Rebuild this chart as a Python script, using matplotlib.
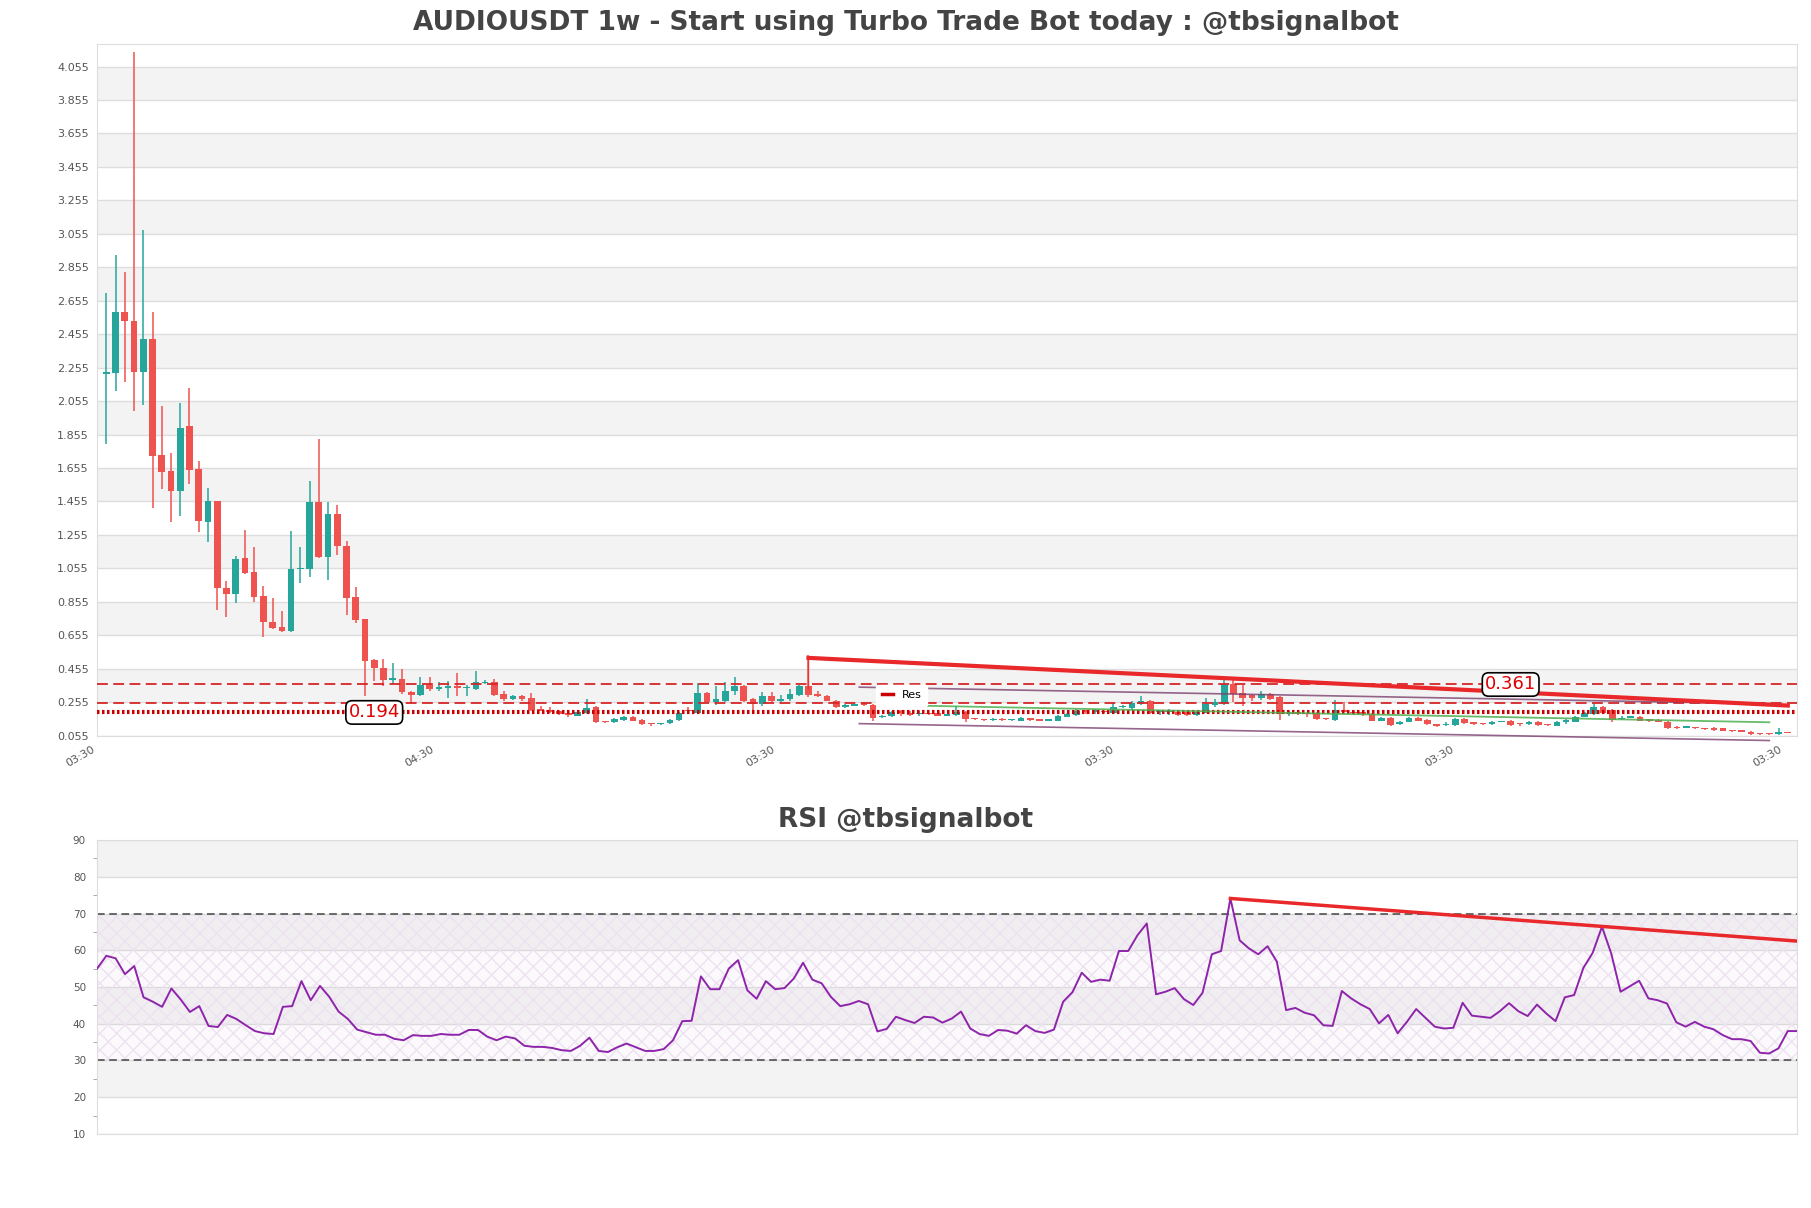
import matplotlib
matplotlib.use("Agg")
import matplotlib.pyplot as plt
from matplotlib.lines import Line2D
import numpy as np

# weekly candles
opens = [
    2.22, 2.225, 2.589, 2.536, 2.229, 2.424, 1.73, 1.636, 1.519, 1.905,
    1.648, 1.334, 1.455, 0.936, 0.9, 1.117, 1.031, 0.89, 0.735, 0.705,
    0.679, 1.051, 1.051, 1.451, 1.125, 1.379, 1.19, 0.884, 0.75, 0.506,
    0.462, 0.389, 0.393, 0.319, 0.297, 0.357, 0.333, 0.337, 0.349, 0.341,
    0.333, 0.371, 0.373, 0.307, 0.273, 0.293, 0.279, 0.214, 0.208, 0.2,
    0.19, 0.174, 0.19, 0.224, 0.14, 0.136, 0.15, 0.164, 0.15, 0.128,
    0.124, 0.128, 0.15, 0.205, 0.193, 0.309, 0.259, 0.265, 0.323, 0.353,
    0.273, 0.243, 0.295, 0.265, 0.273, 0.299, 0.349, 0.303, 0.295, 0.265,
    0.229, 0.235, 0.253, 0.239, 0.165, 0.173, 0.199, 0.193, 0.183, 0.187,
    0.193, 0.173, 0.179, 0.195, 0.157, 0.153, 0.149, 0.153, 0.15, 0.143,
    0.159, 0.147, 0.145, 0.145, 0.169, 0.179, 0.205, 0.199, 0.197, 0.193,
    0.225, 0.221, 0.243, 0.265, 0.195, 0.197, 0.195, 0.195, 0.179, 0.193,
    0.239, 0.243, 0.363, 0.309, 0.299, 0.279, 0.305, 0.285, 0.183, 0.199,
    0.187, 0.189, 0.157, 0.149, 0.209, 0.199, 0.195, 0.183, 0.143, 0.159,
    0.125, 0.139, 0.159, 0.149, 0.121, 0.119, 0.119, 0.153, 0.131, 0.127,
    0.123, 0.137, 0.143, 0.127, 0.125, 0.139, 0.121, 0.113, 0.137, 0.139,
    0.169, 0.183, 0.229, 0.209, 0.155, 0.163, 0.169, 0.149, 0.149, 0.135,
    0.103, 0.103, 0.103, 0.099, 0.099, 0.099, 0.083, 0.081, 0.079, 0.065,
    0.065, 0.063, 0.075,
]
closes = [
    2.23, 2.589, 2.534, 2.229, 2.424, 1.728, 1.634, 1.519, 1.897, 1.644,
    1.34, 1.455, 0.936, 0.9, 1.111, 1.029, 0.886, 0.733, 0.699, 0.679,
    1.051, 1.055, 1.451, 1.125, 1.379, 1.186, 0.88, 0.749, 0.502, 0.458,
    0.389, 0.399, 0.317, 0.297, 0.357, 0.333, 0.343, 0.349, 0.341, 0.343,
    0.377, 0.373, 0.297, 0.273, 0.293, 0.277, 0.21, 0.204, 0.194, 0.186,
    0.18, 0.194, 0.22, 0.138, 0.134, 0.154, 0.164, 0.144, 0.126, 0.122,
    0.126, 0.15, 0.19, 0.2, 0.309, 0.259, 0.275, 0.325, 0.349, 0.265,
    0.243, 0.295, 0.265, 0.275, 0.303, 0.349, 0.299, 0.293, 0.263, 0.229,
    0.235, 0.241, 0.239, 0.163, 0.175, 0.195, 0.193, 0.179, 0.187, 0.185,
    0.173, 0.183, 0.195, 0.155, 0.153, 0.149, 0.153, 0.15, 0.151, 0.159,
    0.147, 0.145, 0.147, 0.173, 0.183, 0.205, 0.199, 0.2, 0.195, 0.225,
    0.227, 0.249, 0.265, 0.189, 0.199, 0.199, 0.179, 0.179, 0.195, 0.243,
    0.259, 0.363, 0.305, 0.279, 0.279, 0.305, 0.275, 0.185, 0.187, 0.183,
    0.183, 0.155, 0.153, 0.209, 0.199, 0.189, 0.183, 0.145, 0.159, 0.119,
    0.135, 0.159, 0.143, 0.123, 0.115, 0.123, 0.153, 0.129, 0.127, 0.125,
    0.139, 0.141, 0.119, 0.123, 0.135, 0.119, 0.117, 0.139, 0.149, 0.169,
    0.189, 0.229, 0.189, 0.149, 0.163, 0.165, 0.143, 0.145, 0.139, 0.099,
    0.099, 0.107, 0.099, 0.095, 0.087, 0.083, 0.081, 0.079, 0.063, 0.063,
    0.063, 0.079, 0.071,
]
highs = [
    2.70, 2.93, 2.828, 4.14, 3.08, 2.587, 2.026, 1.744, 2.042, 2.132,
    1.696, 1.535, 1.455, 0.979, 1.131, 1.284, 1.182, 0.947, 0.878, 0.802,
    1.278, 1.184, 1.578, 1.827, 1.451, 1.433, 1.218, 0.946, 0.75, 0.512,
    0.512, 0.492, 0.456, 0.32, 0.408, 0.408, 0.377, 0.38, 0.428, 0.36,
    0.442, 0.39, 0.393, 0.325, 0.298, 0.3, 0.313, 0.23, 0.225, 0.205,
    0.195, 0.2, 0.273, 0.23, 0.145, 0.16, 0.17, 0.175, 0.155, 0.13,
    0.13, 0.152, 0.195, 0.225, 0.369, 0.319, 0.349, 0.375, 0.405, 0.36,
    0.28, 0.319, 0.315, 0.299, 0.333, 0.355, 0.535, 0.323, 0.3, 0.27,
    0.245, 0.245, 0.255, 0.245, 0.18, 0.205, 0.21, 0.2, 0.2, 0.19,
    0.195, 0.187, 0.235, 0.2, 0.16, 0.155, 0.16, 0.16, 0.155, 0.165,
    0.16, 0.15, 0.155, 0.178, 0.19, 0.215, 0.21, 0.215, 0.205, 0.249,
    0.24, 0.26, 0.295, 0.27, 0.21, 0.215, 0.2, 0.2, 0.2, 0.279,
    0.275, 0.395, 0.395, 0.359, 0.305, 0.325, 0.31, 0.29, 0.2, 0.205,
    0.19, 0.195, 0.16, 0.269, 0.255, 0.2, 0.2, 0.19, 0.165, 0.165,
    0.14, 0.165, 0.165, 0.155, 0.125, 0.135, 0.16, 0.16, 0.135, 0.13,
    0.145, 0.145, 0.15, 0.13, 0.14, 0.145, 0.125, 0.145, 0.155, 0.175,
    0.195, 0.249, 0.235, 0.215, 0.17, 0.17, 0.175, 0.155, 0.155, 0.14,
    0.11, 0.115, 0.105, 0.1, 0.105, 0.1, 0.09, 0.085, 0.085, 0.066,
    0.066, 0.103, 0.075,
]
lows = [
    1.80, 2.116, 2.17, 1.996, 2.03, 1.419, 1.53, 1.334, 1.37, 1.558,
    1.274, 1.21, 0.808, 0.762, 0.846, 1.02, 0.856, 0.647, 0.693, 0.673,
    0.673, 0.966, 1.005, 1.119, 0.987, 1.136, 0.778, 0.727, 0.293, 0.383,
    0.349, 0.363, 0.303, 0.244, 0.29, 0.32, 0.323, 0.281, 0.293, 0.293,
    0.33, 0.365, 0.29, 0.265, 0.27, 0.26, 0.205, 0.2, 0.19, 0.18,
    0.165, 0.17, 0.185, 0.13, 0.13, 0.13, 0.145, 0.14, 0.12, 0.115,
    0.12, 0.125, 0.145, 0.19, 0.19, 0.25, 0.24, 0.255, 0.299, 0.255,
    0.199, 0.233, 0.255, 0.255, 0.26, 0.295, 0.285, 0.285, 0.26, 0.219,
    0.219, 0.23, 0.235, 0.143, 0.16, 0.165, 0.175, 0.175, 0.175, 0.18,
    0.17, 0.17, 0.175, 0.135, 0.15, 0.145, 0.145, 0.145, 0.145, 0.14,
    0.14, 0.14, 0.14, 0.14, 0.165, 0.17, 0.185, 0.185, 0.19, 0.19,
    0.22, 0.21, 0.24, 0.185, 0.18, 0.18, 0.175, 0.175, 0.175, 0.19,
    0.225, 0.24, 0.255, 0.235, 0.265, 0.27, 0.27, 0.149, 0.175, 0.18,
    0.165, 0.15, 0.15, 0.145, 0.195, 0.18, 0.175, 0.14, 0.14, 0.11,
    0.12, 0.135, 0.14, 0.12, 0.105, 0.115, 0.115, 0.125, 0.12, 0.12,
    0.12, 0.135, 0.11, 0.115, 0.12, 0.115, 0.115, 0.11, 0.125, 0.135,
    0.165, 0.18, 0.185, 0.139, 0.15, 0.16, 0.14, 0.135, 0.135, 0.095,
    0.095, 0.1, 0.095, 0.09, 0.085, 0.08, 0.078, 0.075, 0.06, 0.06,
    0.06, 0.06, 0.07,
]

rsi_values = [
    55.0, 58.5, 57.8, 53.5, 55.7, 47.2, 46.0, 44.6, 49.6, 46.6,
    43.2, 44.8, 39.4, 39.1, 42.4, 41.3, 39.6, 38.0, 37.4, 37.2,
    44.6, 44.8, 51.6, 46.4, 50.3, 47.3, 43.3, 41.3, 38.4, 37.7,
    37.0, 37.0, 35.9, 35.5, 36.9, 36.7, 36.7, 37.2, 37.0, 37.0,
    38.3, 38.3, 36.5, 35.5, 36.5, 36.0, 34.0, 33.7, 33.7, 33.4,
    32.8, 32.6, 34.0, 36.2, 32.6, 32.3, 33.6, 34.6, 33.6, 32.6,
    32.6, 33.1, 35.5, 40.7, 40.8, 52.9, 49.4, 49.4, 55.0, 57.3,
    49.1, 46.8, 51.6, 49.4, 49.7, 52.3, 56.6, 52.0, 51.0, 47.3,
    44.8, 45.3, 46.2, 45.3, 37.9, 38.6, 41.9, 41.0, 40.2, 41.9,
    41.7, 40.3, 41.4,
    43.3, 38.7, 37.2, 36.7, 38.3, 38.1, 37.3, 39.6, 38.0,
    37.5, 38.4, 46.0, 48.6, 53.9, 51.4, 52.0, 51.7, 59.8, 59.8,
    64.1, 67.3, 48.0, 48.7, 49.7, 46.7, 45.1, 48.4, 58.9, 59.8,
    74.1, 62.7, 60.5, 58.9, 61.1, 56.9, 43.7, 44.3, 43.0, 42.3,
    39.6, 39.4, 48.9, 46.9, 45.3, 44.0, 40.1, 42.4, 37.4, 40.5,
    44.0, 41.6, 39.2, 38.7, 38.9, 45.7, 42.2, 41.9, 41.6, 43.4,
    45.6, 43.4, 42.1, 45.2, 42.8, 40.7, 47.2, 47.8, 55.2, 59.3,
    66.4, 59.1, 48.7, 50.2, 51.7, 46.9, 46.4, 45.5, 40.4, 39.2,
    40.5, 39.2, 38.5, 36.9, 35.8, 35.8, 35.3, 32.1, 31.9, 33.3,
    38.0, 38.0,
]

x_tick_pos = [-1.0, 35.7, 72.5, 109.3, 146.0, 181.6]
x_tick_labels = ["03:30", "04:30", "03:30", "03:30", "03:30", "03:30"]
price_ticks = [round(0.055 + 0.2 * k, 3) for k in range(21)]

# levels and trend lines
support_level = 0.194
res_levels = [0.361, 0.253]
res_trend_x = [76, 182]
res_trend_y = [0.52, 0.235]
chan_upper_x = [81.5, 180]
chan_upper_y = [0.345, 0.245]
chan_lower_x = [81.5, 180]
chan_lower_y = [0.127, 0.026]
green_line_x = [83.7, 180]
green_line_y = [0.239, 0.135]
rsi_trend_x = [122, 183]
rsi_trend_y = [74.1, 62.5]

GREEN = "#26a69a"
RED = "#ef5350"
GRID = "#dddddd"
BAND = "#f3f3f3"
TXT = "#444444"

fig = plt.figure(figsize=(18.11, 12.08), dpi=100)
ax = fig.add_axes([0.0536, 0.391, 0.9387, 0.5726])
ax2 = fig.add_axes([0.0536, 0.0613, 0.9387, 0.2433])

# ---- price panel ----
ax.set_xlim(-1, 183)
ax.set_ylim(0.055, 4.19)
for k in range(0, 20, 2):
    lo = 0.255 + 0.2 * k
    ax.axhspan(lo, lo + 0.2, color=BAND, zorder=0, lw=0)
for t in price_ticks:
    ax.axhline(t, color=GRID, lw=1, zorder=0.5)

for i, (o, c, h, l) in enumerate(zip(opens, closes, highs, lows)):
    col = GREEN if c >= o else RED
    ax.vlines(i, l, h, color=col, lw=1.1, zorder=3)
    body = max(abs(c - o), 0.007)
    ax.bar(i, body, bottom=min(o, c), width=0.72, color=col, zorder=4, lw=0)

for lvl in res_levels:
    ax.axhline(lvl, color="#d62728", lw=1.3, ls=(0, (6, 3)), zorder=5)
ax.axhline(support_level, color="#cc0000", lw=3, ls=(0, (0.6, 0.6)), zorder=5)

ax.plot(chan_upper_x, chan_upper_y, color="#7b3f6e", lw=1.2, alpha=0.8, zorder=5)
ax.plot(chan_lower_x, chan_lower_y, color="#7b3f6e", lw=1.2, alpha=0.8, zorder=5, clip_on=False)
ax.plot(green_line_x, green_line_y, color="#4caf50", lw=1.3, alpha=0.85, zorder=5)
ax.vlines(res_trend_x[0], highs[res_trend_x[0]] - 0.2, res_trend_y[0], color="#e53935", lw=1, zorder=5)
ax.plot(res_trend_x, res_trend_y, color="#e8282a", lw=3, zorder=6)

box = dict(boxstyle="round,pad=0.15,rounding_size=0.35", fc="white", ec="black", lw=1.2)
ax.text(29, support_level, f"{support_level:.3f}", color="#e00000", fontsize=13,
        ha="center", va="center", bbox=box, zorder=8)
ax.text(152, res_levels[0], f"{res_levels[0]:.3f}", color="#e00000", fontsize=13,
        ha="center", va="center", bbox=box, zorder=8)

leg = ax.legend(handles=[Line2D([], [], color="#cc0000", lw=2.5)], labels=["Res"],
                loc="lower left", bbox_to_anchor=(0.455, 0.035), frameon=True,
                fontsize=8, handlelength=1.0, borderpad=0.5)
leg.get_frame().set_edgecolor("white")
leg.get_frame().set_alpha(1)

ax.set_yticks(price_ticks)
ax.set_yticklabels([f"{t:.3f}" for t in price_ticks])
ax.set_xticks(x_tick_pos)
ax.set_xticklabels(x_tick_labels, rotation=30, ha="right")
ax.tick_params(axis="both", labelsize=8, colors="#555555", length=0, pad=6)
for s in ax.spines.values():
    s.set_color(GRID)
fig.text(0.5, 0.981, "AUDIOUSDT 1w - Start using Turbo Trade Bot today : @tbsignalbot",
         ha="center", va="center", fontsize=19, fontweight="bold", color=TXT)

# ---- RSI panel ----
rx = np.arange(len(rsi_values))
ax2.set_xlim(0, len(rsi_values) - 1)
ax2.set_ylim(10, 90)
for lo in [20, 40, 60, 80]:
    ax2.axhspan(lo, lo + 10, color=BAND, zorder=0, lw=0)
for t in range(10, 91, 10):
    ax2.axhline(t, color=GRID, lw=1, zorder=0.5)
ax2.fill_between([0, len(rsi_values) - 1], 30, 70, facecolor="#b070c0", alpha=0.035, zorder=1, lw=0)
ax2.fill_between([0, len(rsi_values) - 1], 30, 70, facecolor="none", edgecolor="#ece2f0",
                 hatch="xx", lw=0, zorder=1)
ax2.axhline(70, color="#444444", lw=1.1, ls=(0, (5, 3)), zorder=2)
ax2.axhline(30, color="#444444", lw=1.1, ls=(0, (5, 3)), zorder=2)
ax2.plot(rx, rsi_values, color="#8e24aa", lw=1.4, zorder=4)
ax2.plot(rsi_trend_x, rsi_trend_y, color="#e8282a", lw=2.5, zorder=5)

ax2.set_yticks(range(10, 91, 10))
ax2.set_yticks(range(15, 90, 10), minor=True)
ax2.set_xticks([])
ax2.tick_params(axis="y", labelsize=7.5, colors="#555555", length=0, pad=8)
ax2.tick_params(axis="y", which="minor", length=3, color="#999999")
for s in ax2.spines.values():
    s.set_color(GRID)
fig.text(0.5, 0.321, "RSI @tbsignalbot", ha="center", va="center",
         fontsize=19, fontweight="bold", color=TXT)

fig.savefig("out.png", dpi=100, facecolor="white")
